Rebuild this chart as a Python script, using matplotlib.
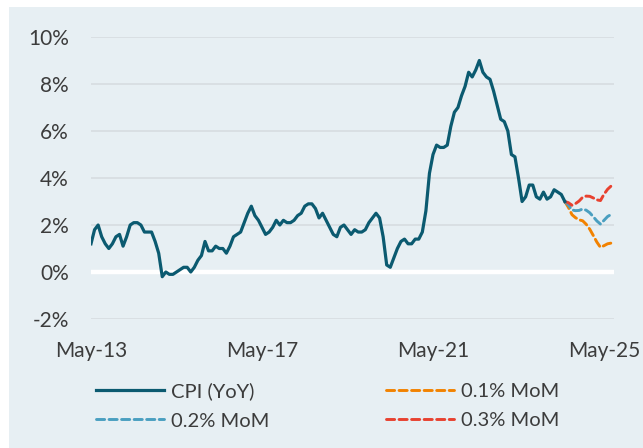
import matplotlib
matplotlib.use("Agg")
import matplotlib.pyplot as plt
from matplotlib.patches import Rectangle
import numpy as np

plt.rcParams['font.family'] = ['Lato', 'DejaVu Sans']

# Monthly CPI YoY (%), May-2013 .. Jun-2024
cpi = [
    1.2, 1.8, 2.0, 1.5, 1.2, 1.0, 1.2, 1.5,                       # 2013 May-Dec
    1.6, 1.1, 1.5, 2.0, 2.1, 2.1, 2.0, 1.7, 1.7, 1.7, 1.3, 0.8,   # 2014
    -0.2, 0.0, -0.1, -0.1, 0.0, 0.1, 0.2, 0.2, 0.0, 0.2, 0.5, 0.7,  # 2015
    1.3, 0.9, 0.9, 1.1, 1.0, 1.0, 0.8, 1.1, 1.5, 1.6, 1.7, 2.1,   # 2016
    2.5, 2.8, 2.4, 2.2, 1.9, 1.6, 1.7, 1.9, 2.2, 2.0, 2.2, 2.1,   # 2017
    2.1, 2.2, 2.4, 2.5, 2.8, 2.9, 2.9, 2.7, 2.3, 2.5, 2.2, 1.9,   # 2018
    1.6, 1.5, 1.9, 2.0, 1.8, 1.6, 1.8, 1.7, 1.7, 1.8, 2.1, 2.3,   # 2019
    2.5, 2.3, 1.5, 0.3, 0.2, 0.6, 1.0, 1.3, 1.4, 1.2, 1.2, 1.4,   # 2020
    1.4, 1.7, 2.6, 4.2, 5.0, 5.4, 5.3, 5.3, 5.4, 6.2, 6.8, 7.0,   # 2021
    7.5, 7.9, 8.5, 8.3, 8.6, 9.0, 8.5, 8.3, 8.2, 7.7, 7.1, 6.5,   # 2022
    6.4, 6.0, 5.0, 4.9, 4.0, 3.0, 3.2, 3.7, 3.7, 3.2, 3.1, 3.4,   # 2023
    3.1, 3.2, 3.5, 3.4, 3.3, 3.0,                                 # 2024 Jan-Jun
]

# Projections (Jun-2024 .. Jul-2025), starting from last actual value
proj_01 = [3.0, 2.75, 2.44, 2.31, 2.22, 2.18, 2.03, 1.82, 1.55, 1.27, 1.05, 1.12, 1.20, 1.23]
proj_02 = [3.0, 2.85, 2.64, 2.61, 2.62, 2.68, 2.63, 2.52, 2.35, 2.17, 2.04, 2.20, 2.36, 2.45]
proj_03 = [3.0, 2.95, 2.84, 2.91, 3.02, 3.18, 3.23, 3.22, 3.15, 3.07, 3.04, 3.31, 3.52, 3.66]

tick_labels = ["May-13", "May-17", "May-21", "May-25"]
tick_pos = [0, 48, 96, 144]
y_ticks = [-2, 0, 2, 4, 6, 8, 10]

W, H = 643, 448
fig = plt.figure(figsize=(W / 100, H / 100), dpi=100)
fig.patch.set_facecolor("white")
bg = "#e7eff3"
fig.patches.append(Rectangle((9 / W, 0), 1 - 9 / W, 1 - 7 / H, transform=fig.transFigure,
                             facecolor=bg, edgecolor="none", zorder=-10))

ax = fig.add_axes([91 / W, (H - 319) / H, (614 - 91) / W, (319 - 37) / H])
ax.set_facecolor("none")
for s in ax.spines.values():
    s.set_visible(False)

x_cpi = np.arange(len(cpi))
x_proj = np.arange(len(cpi) - 1, len(cpi) - 1 + len(proj_01))

ax.set_xlim(0, 146.8)
ax.set_ylim(-2, 10)

for v in y_ticks:
    if v == 0:
        continue
    ax.axhline(v, color="#d8dee2", lw=1.3, zorder=1)
ax.axhline(0, color="white", lw=3.2, zorder=1)

cpi_col = "#0b5a70"
c1, c2, c3 = "#f28200", "#4a9fc0", "#e8412f"
dash = (2.8, 1.5)
l1, = ax.plot(x_cpi, cpi, color=cpi_col, lw=2.3, zorder=5, solid_joinstyle="round")
l2, = ax.plot(x_proj, proj_01, color=c1, lw=2.1, ls=(0, dash), zorder=3, dash_capstyle="round")
l3, = ax.plot(x_proj, proj_02, color=c2, lw=2.1, ls=(0, dash), zorder=3, dash_capstyle="round")
l4, = ax.plot(x_proj, proj_03, color=c3, lw=2.1, ls=(0, dash), zorder=4, dash_capstyle="round")

txt = "#3c3c3c"
ax.set_yticks(y_ticks)
ax.set_yticklabels([f"{v}%" for v in y_ticks])
ax.set_xticks(tick_pos)
ax.set_xticklabels(tick_labels)
ax.tick_params(axis="y", length=0, pad=16, labelsize=15, labelcolor=txt)
ax.tick_params(axis="x", length=0, pad=16, labelsize=15, labelcolor=txt)

fs = 14.5
leg_kw = dict(frameon=False, fontsize=fs, labelcolor=txt, handlelength=3.4,
              handletextpad=0.3, labelspacing=0.6, borderpad=0, borderaxespad=0,
              loc="center left")
leg1 = fig.legend([l1, l3], ["CPI (YoY)", "0.2% MoM"],
                  bbox_to_anchor=(96 / W, 1 - 406 / H), **leg_kw)
leg2 = fig.legend([l2, l4], ["0.1% MoM", "0.3% MoM"],
                  bbox_to_anchor=(386 / W, 1 - 406 / H), **leg_kw)

fig.savefig("out.png", dpi=100, facecolor=fig.get_facecolor())
